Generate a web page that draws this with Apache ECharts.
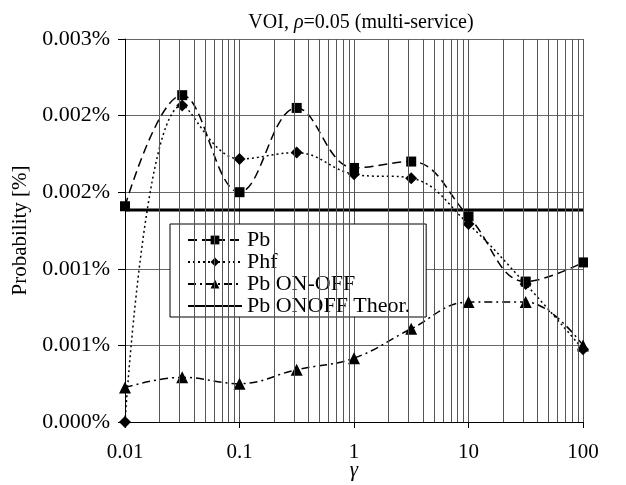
<!DOCTYPE html>
<html>
<head>
<meta charset="utf-8">
<script src="https://cdn.jsdelivr.net/npm/echarts@6/dist/echarts.min.js"></script>
<style>
  html, body { margin: 0; padding: 0; background: #fff; }
  #main { width: 626px; height: 485px; }
</style>
</head>
<body>
<div id="main"></div>
<script>
// 数据 (概率以 % 为单位)
const gamma = [0.01, 0.0316, 0.1, 0.316, 1, 3.16, 10, 31.6, 100];
const pb = [0.00169, 0.00256, 0.00180, 0.00246, 0.00199, 0.00204, 0.00161, 0.00110, 0.00125];
const phf = [0.0, 0.00248, 0.00206, 0.00211, 0.00194, 0.00191, 0.00155, 0.00108, 0.00057];
const pbOnOff = [0.00027, 0.00035, 0.00030, 0.00041, 0.00050, 0.00073, 0.00094, 0.00094, 0.00060];
const pbTheor = 0.00166;
// y 轴刻度 0, 0.0006, ... 0.003 (Excel 三位小数显示)
const yTickLabels = ['0.000%', '0.001%', '0.001%', '0.002%', '0.002%', '0.003%'];
const xTickLabels = { 0.01: '0.01', 0.1: '0.1', 1: '1', 10: '10', 100: '100' };
const seriesNames = ['Pb', 'Phf', 'Pb ON-OFF', 'Pb ONOFF Theor.'];

// 对数轴次网格线 (2..9 × 10^k)
const minorX = [];
[0.01, 0.1, 1, 10].forEach(d => { for (let m = 2; m <= 9; m++) minorX.push(+(d * m).toPrecision(3)); });

const FONT = '"Liberation Serif", "Times New Roman", serif';
const pair = arr => gamma.map((g, i) => [g, arr[i]]);

const chart = echarts.init(document.getElementById('main'));
const line = (name, data, symbol, size, dash) => ({
    name, type: 'line', data: pair(data), smooth: 0.4,
    symbol, symbolSize: size, z: 3,
    lineStyle: { color: '#000', width: 1.5, type: dash },
    itemStyle: { color: '#000' }
});

chart.setOption({
    animation: false,
    backgroundColor: '#fff',
    title: {
        text: '{a|VOI, }{b|ρ}{a|=0.05 (multi-service)}',
        left: 356, top: 8, textAlign: 'center',
        textStyle: { fontWeight: 'normal', rich: {
            a: { fontFamily: FONT, fontSize: 20, color: '#000', fontWeight: 'normal' },
            b: { fontFamily: FONT, fontSize: 20, color: '#000', fontWeight: 'normal', fontStyle: 'italic' }
        } }
    },
    grid: { left: 125, right: 43, top: 39, bottom: 63, show: false, outerBoundsMode: 'none' },
    legend: {
        data: seriesNames.map(n => n === 'Pb ONOFF Theor.' ? { name: n, itemStyle: { opacity: 0 } } : n),
        orient: 'vertical', left: 170, top: 224,
        backgroundColor: '#fff', borderColor: '#000', borderWidth: 1,
        padding: [5, 16, 0, 17], itemGap: 0,
        itemWidth: 54, itemHeight: 11,
        textStyle: { fontFamily: FONT, fontSize: 22, color: '#000', lineHeight: 21.5 }
    },
    xAxis: {
        type: 'log', logBase: 10, min: 0.01, max: 100,
        name: 'γ', nameLocation: 'middle', nameGap: 38, nameMoveOverlap: false,
        nameTextStyle: { fontFamily: FONT, fontSize: 21, fontStyle: 'italic', color: '#000' },
        axisLine: { lineStyle: { color: '#000', width: 1 } },
        axisTick: { show: true, length: 6, lineStyle: { color: '#000' } },
        axisLabel: { fontFamily: FONT, fontSize: 21, color: '#000', margin: 20,
            formatter: v => xTickLabels[+v.toPrecision(3)] ?? '' },
        splitLine: { show: true, lineStyle: { color: '#555', width: 1 } }
    },
    yAxis: {
        type: 'value', min: 0, max: 0.003, interval: 0.0006,
        name: 'Probability [%]', nameLocation: 'middle', nameGap: 86,
        nameTextStyle: { fontFamily: FONT, fontSize: 21, color: '#000' },
        axisLine: { show: true, lineStyle: { color: '#000', width: 1 } },
        axisTick: { show: true, length: 7, lineStyle: { color: '#000' } },
        axisLabel: { fontFamily: FONT, fontSize: 22, color: '#000', margin: 15,
            formatter: v => yTickLabels[Math.round(v / 0.0006)] ?? '' },
        splitLine: { show: true, lineStyle: { color: '#666', width: 1 } }
    },
    series: [
        {
            name: 'grid', type: 'line', data: [], z: 1, silent: true,
            markLine: {
                silent: true, symbol: ['none', 'none'], label: { show: false },
                lineStyle: { color: '#555', width: 1, type: 'solid' },
                data: minorX.map(x => ({ xAxis: x }))
            }
        },
        line('Pb', pb, 'rect', 10, [9, 5]),
        line('Phf', phf, 'diamond', 12, [2, 3]),
        line('Pb ON-OFF', pbOnOff, 'triangle', 12, [8, 4, 2, 4]),
        {
            name: 'Pb ONOFF Theor.', type: 'line', symbol: 'none', z: 3,
            data: [[0.01, pbTheor], [100, pbTheor]],
            lineStyle: { color: '#000', width: 3, type: 'solid' },
            itemStyle: { color: '#000' }
        }
    ]
});
window.addEventListener('resize', () => chart.resize());
</script>
</body>
</html>
